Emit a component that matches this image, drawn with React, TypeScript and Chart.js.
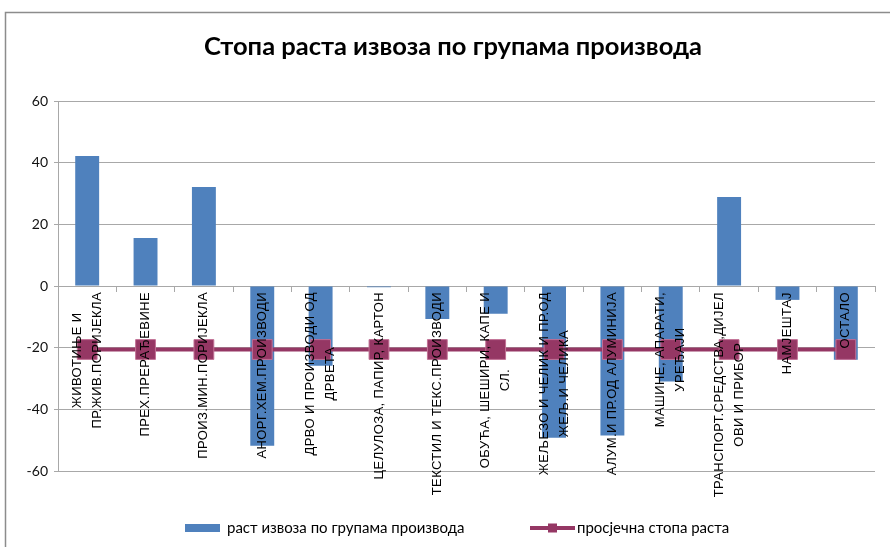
import React, { useEffect, useRef } from "react";
import { Chart, registerables } from "chart.js";

Chart.register(...registerables);

const chartTitle = "Стопа раста извоза по групама производа";
const barLabel = "раст извоза по групама производа";
const lineLabel = "просјечна стопа раста";

const categories: string[][] = [
  ["ЖИВОТИЊЕ И", "ПР.ЖИВ.ПОРИЈЕКЛА"],
  ["ПРЕХ.ПРЕРАЂЕВИНЕ"],
  ["ПРОИЗ.МИН.ПОРИЈЕКЛА"],
  ["АНОРГ.ХЕМ.ПРОИЗВОДИ"],
  ["ДРВО И ПРОИЗВОДИ ОД", "ДРВЕТА"],
  ["ЦЕЛУЛОЗА, ПАПИР, КАРТОН"],
  ["ТЕКСТИЛ И ТЕКС.ПРОИЗВОДИ"],
  ["ОБУЋА, ШЕШИРИ, КАПЕ И", "СЛ."],
  ["ЖЕЉЕЗО И ЧЕЛИК И ПР.ОД", "ЖЕЉ.И ЧЕЛИКА"],
  ["АЛУМ.И ПР.ОД АЛУМИНИЈА"],
  ["МАШИНЕ, АПАРАТИ,", "УРЕЂАЈИ"],
  ["ТРАНСПОРТ.СРЕДСТВА,ДИЈЕЛ", "ОВИ И ПРИБОР"],
  ["НАМЈЕШТАЈ"],
  ["ОСТАЛО"],
];

const exportGrowth = [42.2, 15.6, 32.1, -51.8, -25.9, -0.4, -10.7, -9.0, -49.2, -48.5, -31.0, 28.9, -4.5, -23.9];
const averageGrowth = [-20.6, -20.6, -20.6, -20.6, -20.6, -20.6, -20.6, -20.6, -20.6, -20.6, -20.6, -20.6, -20.6, -20.6];
const yTicks = [-60, -40, -20, 0, 20, 40, 60];

const BAR_COLOR = "#4F81BD";
const LINE_COLOR = "#953764";
const GRID_COLOR = "#A8A8A8";

const framePlugin = {
  id: "frame",
  beforeDraw(chart: any) {
    const ctx = chart.ctx;
    ctx.save();
    ctx.fillStyle = "#fff";
    ctx.fillRect(0, 0, chart.width, chart.height);
    ctx.strokeStyle = "#8C8C8C";
    ctx.lineWidth = 1.5;
    ctx.strokeRect(5.5, 12.5, chart.width + 20, chart.height + 20);
    ctx.restore();
  },
};

const labelsPlugin = {
  id: "catLabels",
  afterDatasetsDraw(chart: any) {
    const ctx = chart.ctx;
    const xs = chart.scales.x;
    const ys = chart.scales.y;
    const top = ys.getPixelForValue(0) + 6;
    const lineH = 20;
    ctx.save();
    ctx.font = '13px "Liberation Sans"';
    (ctx as any).letterSpacing = "0.4px";
    ctx.fillStyle = "#000";
    categories.forEach((lines, i) => {
      const x = xs.getPixelForTick(i);
      const W = Math.max(...lines.map((l) => ctx.measureText(l).width));
      const n = lines.length;
      lines.forEach((l, j) => {
        const lx = x + (j - (n - 1) / 2) * lineH;
        ctx.save();
        ctx.translate(lx, top + W / 2);
        ctx.rotate(-Math.PI / 2);
        ctx.textAlign = "center";
        ctx.textBaseline = "middle";
        ctx.fillText(l, 0, 0);
        ctx.restore();
      });
    });
    ctx.restore();
  },
};

const titleLegendPlugin = {
  id: "titleLegend",
  afterDraw(chart: any) {
    const ctx = chart.ctx;
    ctx.save();
    ctx.fillStyle = "#000";
    ctx.font = 'bold 25.5px Lato';
    ctx.textAlign = "center";
    ctx.textBaseline = "alphabetic";
    ctx.fillText(chartTitle, 453, 55);

    const ds = chart.data.datasets;
    const ly = 528;
    ctx.font = '15px Lato';
    ctx.textAlign = "left";
    ctx.textBaseline = "middle";
    // bar legend
    ctx.fillStyle = ds[0].backgroundColor;
    ctx.fillRect(185, 524, 35, 8);
    ctx.fillStyle = "#000";
    ctx.fillText(ds[0].label, 227, ly);
    // line legend
    ctx.strokeStyle = ds[1].borderColor;
    ctx.lineWidth = 4;
    ctx.beginPath();
    ctx.moveTo(530, ly);
    ctx.lineTo(575, ly);
    ctx.stroke();
    ctx.fillStyle = ds[1].pointBackgroundColor;
    ctx.fillRect(548, ly - 4.5, 9, 9);
    ctx.fillStyle = "#000";
    ctx.fillText(ds[1].label, 577, ly);
    ctx.restore();
  },
};

export default function App() {
  const ref = useRef<HTMLCanvasElement>(null);

  useEffect(() => {
    if (!ref.current) return;
    const chart = new Chart(ref.current, {
      type: "bar",
      data: {
        labels: categories,
        datasets: [
          {
            type: "bar",
            label: barLabel,
            data: exportGrowth,
            backgroundColor: BAR_COLOR,
            barPercentage: 0.41,
            categoryPercentage: 1,
            order: 2,
          },
          {
            type: "line",
            label: lineLabel,
            data: averageGrowth,
            borderColor: LINE_COLOR,
            borderWidth: 4,
            pointStyle: "rect",
            pointRadius: 14,
            pointBackgroundColor: LINE_COLOR,
            pointBorderColor: "#C27095",
            pointBorderWidth: 1,
            order: 1,
          } as any,
        ],
      },
      options: {
        responsive: false,
        animation: false,
        layout: { padding: { top: 101, left: 0, right: 6, bottom: 76 } },
        plugins: {
          legend: { display: false },
          title: { display: false },
          tooltip: { enabled: false },
        },
        scales: {
          x: {
            position: { y: 0 } as any,
            offset: true,
            grid: {
              drawOnChartArea: false,
              drawTicks: true,
              tickLength: 5,
              color: GRID_COLOR,
              offset: true,
            },
            border: { color: GRID_COLOR, width: 1 },
            ticks: { display: false },
          },
          y: {
            min: yTicks[0],
            max: yTicks[yTicks.length - 1],
            afterFit(scale: any) {
              scale.width = 58;
            },
            afterBuildTicks(scale: any) {
              scale.ticks = yTicks.map((v) => ({ value: v }));
            },
            grid: { color: GRID_COLOR, tickLength: 4 },
            border: { color: GRID_COLOR },
            ticks: {
              font: { family: "Lato", size: 14 },
              color: "#111",
              padding: 6,
            },
          },
        },
      },
      plugins: [framePlugin, labelsPlugin, titleLegendPlugin],
    });
    return () => chart.destroy();
  }, []);

  return (
    <div style={{ position: "absolute", left: 0, top: 0, width: 890, height: 547 }}>
      <canvas ref={ref} width={890} height={547} style={{ display: "block" }} />
    </div>
  );
}
